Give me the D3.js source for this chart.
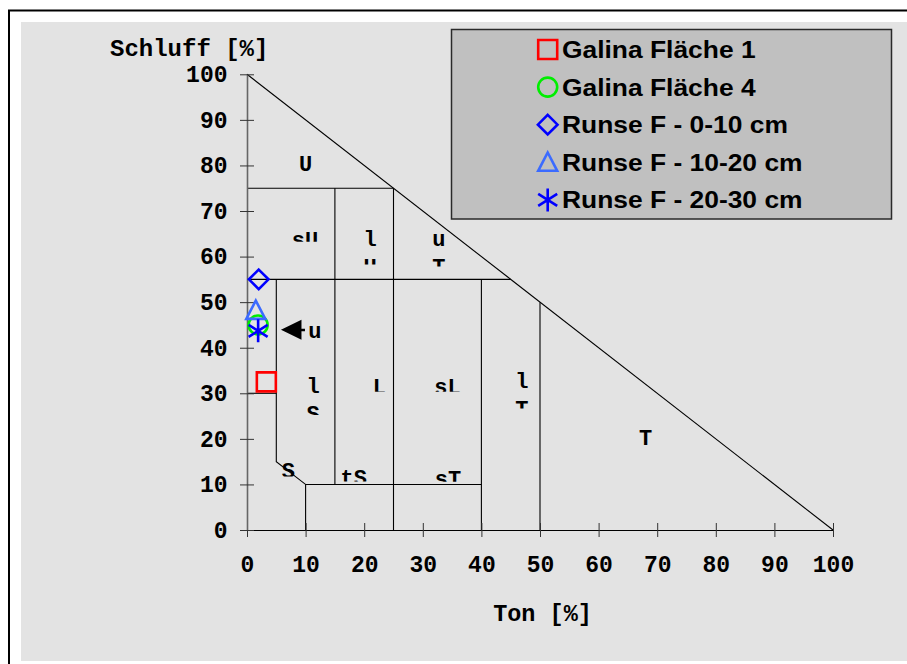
<!DOCTYPE html>
<html><head><meta charset="utf-8">
<script src="https://cdn.jsdelivr.net/npm/d3@7"></script>
<style>body{margin:0;background:#fff;overflow:hidden}</style>
</head><body>
<svg id="c" width="907" height="664"></svg>
<script>
// ---------- data ----------
const tickValues = [0, 10, 20, 30, 40, 50, 60, 70, 80, 90, 100];
const xTitle = "Ton [%]";
const yTitle = "Schluff [%]";

const seriesNames = ["Galina Fläche 1", "Galina Fläche 4", "Runse F - 0-10 cm", "Runse F - 10-20 cm", "Runse F - 20-30 cm"];
const seriesClay = [3.3, 1.9, 2.0, 1.5, 1.9];
const seriesSilt = [32.5, 45.0, 55.0, 48.2, 43.7];

// texture class boundaries as [clay, silt] vertices
const boundaryLines = [
  [[0, 100], [100, 0]],
  [[0, 75], [25, 75]],
  [[15, 75], [15, 10]],
  [[25, 75], [25, 0]],
  [[0, 55], [45, 55]],
  [[5, 55], [5, 15], [10, 10], [10, 0]],
  [[10, 10], [40, 10]],
  [[40, 55], [40, 0]],
  [[50, 50], [50, 0]],
  [[0, 30], [5, 30]]
];

// texture class labels (text lines) and their anchor in [clay, silt]
const labelText = [["U"], ["sU"], ["l", "U"], ["u", "T"], ["u"], ["l", "S"], ["L"], ["sL"], ["l", "T"], ["S"], ["tS"], ["sT"], ["T"]];
const labelClay = [10, 9.9, 21, 32.75, 11.6, 11.3, 22.6, 34.2, 46.9, 7.05, 18.2, 34.3, 68];
const labelSilt = [78.8, 62.1, 62.3, 62.3, 42.1, 30.1, 29.8, 29.8, 31.1, 11.5, 9.8, 9.6, 18.7];

// ---------- styles ----------
const seriesColor = ["#ff0000", "#00ee00", "#0000ff", "#3b6bff", "#0000ff"];
const seriesShape = ["square", "circle", "diamond", "triangle", "asterisk"];
const labelClip = [null, -5.3, 18.5, 20.5, null, 22.2, -2.5, -2.5, 20.1, -1.2, -3.8, -4.5, null];
const labelArrow = 4;
const monoFont = "'Liberation Mono','Courier New',monospace";
const sansFont = "'Liberation Sans',Arial,sans-serif";

const svg = d3.select("#c");

// frame & background
svg.append("rect").attr("x", 9).attr("y", 10.5).attr("width", 1000).attr("height", 1000)
  .attr("fill", "#fff").attr("stroke", "#000").attr("stroke-width", 2);
svg.append("rect").attr("x", 21).attr("y", 22).attr("width", 900).attr("height", 639).attr("fill", "#e3e3e3");

const x = d3.scaleLinear().domain([0, 100]).range([247, 833]);
const y = d3.scaleLinear().domain([0, 100]).range([530, 74.3]);

// boundaries
const line = d3.line().x(d => x(d[0])).y(d => y(d[1]));
svg.append("g").selectAll("path").data(boundaryLines).join("path")
  .attr("d", line).attr("fill", "none").attr("stroke", "#000").attr("stroke-width", 1.1);

// axes
const xAxis = svg.append("g").attr("transform", "translate(0,530)")
  .call(d3.axisBottom(x).tickValues(tickValues).tickSize(7).tickSizeOuter(0).tickPadding(18.4));
xAxis.selectAll(".tick line").attr("y1", -7).attr("stroke", "#333");
xAxis.select(".domain").attr("stroke", "#000");

const yAxis = svg.append("g").attr("transform", "translate(247,0)")
  .call(d3.axisLeft(y).tickValues(tickValues).tickSize(7).tickSizeOuter(0).tickPadding(12.5));
yAxis.selectAll(".tick line").attr("x1", 7).attr("stroke", "#333");
yAxis.select(".domain").attr("stroke", "#666").attr("stroke-width", 1.6);

svg.selectAll(".tick text").attr("font-family", monoFont).attr("font-weight", "bold")
  .attr("font-size", 23).attr("fill", "#000");

// axis titles
svg.append("text").attr("x", 110).attr("y", 56).attr("font-family", monoFont)
  .attr("font-weight", "bold").attr("font-size", 24).text(yTitle);
svg.append("text").attr("x", (x(0) + x(100)) / 2 + 2.5).attr("y", 620.5).attr("text-anchor", "middle")
  .attr("font-family", monoFont).attr("font-weight", "bold").attr("font-size", 23.5).text(xTitle);

// class labels
const defs = svg.append("defs");
const labelsG = svg.append("g").attr("font-family", monoFont).attr("font-weight", "bold")
  .attr("font-size", 22).attr("fill", "#000");
labelText.forEach((lines, i) => {
  const cx = x(labelClay[i]), by = y(labelSilt[i]);
  const g = labelsG.append("g");
  if (labelClip[i] != null) {
    defs.append("clipPath").attr("id", "lc" + i).attr("clipPathUnits", "userSpaceOnUse")
      .append("rect").attr("x", cx - 40).attr("y", by - 40).attr("width", 80).attr("height", 40 + labelClip[i]);
    g.attr("clip-path", `url(#lc${i})`);
  }
  lines.forEach((t, j) => g.append("text").attr("x", cx).attr("y", by + j * 28)
    .attr("text-anchor", "middle").text(t));
  if (i === labelArrow) {
    labelsG.append("path")
      .attr("d", `M${cx - 34},${by - 8.3}L${cx - 13.5},${by - 18.3}L${cx - 13.5},${by + 1.7}Z M${cx - 14},${by - 9.5}h4v2.5h-4Z`)
      .attr("fill", "#000");
  }
});

// marker shapes
function shapePath(kind) {
  switch (kind) {
    case "square": return "M-9.5,-9.5H9.5V9.5H-9.5Z";
    case "circle": return "M9.5,0A9.5,9.5 0 1,1 -9.5,0A9.5,9.5 0 1,1 9.5,0Z";
    case "diamond": return "M0,-9.8L9.8,0L0,9.8L-9.8,0Z";
    case "triangle": return "M0,-9.8L9.5,8.5H-9.5Z";
    case "asterisk": return "M0,-11.5V11.5M-9.5,-6L9.5,6M-9.5,6L9.5,-6";
  }
}

// data points
svg.append("g").selectAll("path").data(seriesNames).join("path")
  .attr("transform", (d, i) => `translate(${x(seriesClay[i])},${y(seriesSilt[i])})`)
  .attr("d", (d, i) => shapePath(seriesShape[i]))
  .attr("fill", "none")
  .attr("stroke", (d, i) => seriesColor[i])
  .attr("stroke-width", 2.6);

// legend
const lg = svg.append("g");
lg.append("rect").attr("x", 451.5).attr("y", 29.5).attr("width", 440).attr("height", 189.5)
  .attr("fill", "#c0c0c0").attr("stroke", "#2a2a2a").attr("stroke-width", 1.5);
const rows = lg.selectAll("g.row").data(seriesNames).join("g").attr("class", "row")
  .attr("transform", (d, i) => `translate(0,${58 + i * 37.6})`);
rows.append("path")
  .attr("transform", "translate(547.7,-8.5)")
  .attr("d", (d, i) => shapePath(seriesShape[i]))
  .attr("fill", "none").attr("stroke", (d, i) => seriesColor[i]).attr("stroke-width", 2.6);
rows.append("text").attr("transform", "translate(562,0) scale(1.1,1)")
  .attr("font-family", sansFont).attr("font-weight", "bold").attr("font-size", 24)
  .attr("fill", "#000").text(d => d);
</script>
</body></html>
